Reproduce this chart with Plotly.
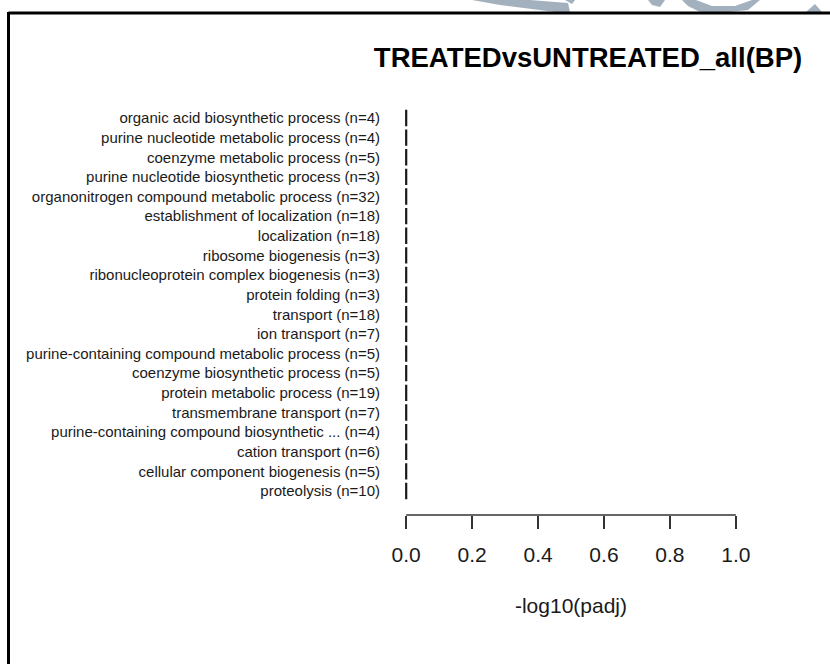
import plotly.graph_objects as go

# GO terms (top to bottom) with gene counts and enrichment scores
terms = [
    "organic acid biosynthetic process",
    "purine nucleotide metabolic process",
    "coenzyme metabolic process",
    "purine nucleotide biosynthetic process",
    "organonitrogen compound metabolic process",
    "establishment of localization",
    "localization",
    "ribosome biogenesis",
    "ribonucleoprotein complex biogenesis",
    "protein folding",
    "transport",
    "ion transport",
    "purine-containing compound metabolic process",
    "coenzyme biosynthetic process",
    "protein metabolic process",
    "transmembrane transport",
    "purine-containing compound biosynthetic ...",
    "cation transport",
    "cellular component biogenesis",
    "proteolysis",
]
counts = [4, 4, 5, 3, 32, 18, 18, 3, 3, 3, 18, 7, 5, 5, 19, 7, 4, 6, 5, 10]
neg_log10_padj = [0.0, 0.0, 0.0, 0.0, 0.0, 0.0, 0.0, 0.0, 0.0, 0.0,
                  0.0, 0.0, 0.0, 0.0, 0.0, 0.0, 0.0, 0.0, 0.0, 0.0]
x_ticks = [0.0, 0.2, 0.4, 0.6, 0.8, 1.0]

labels = [f"{t} (n={n})" for t, n in zip(terms, counts)]
pos = list(range(len(labels)))

# horizontal bars drawn as closed outlines (base at 0, half-height 0.4167)
half = 0.4167
bx, by = [], []
for p, v in zip(pos, neg_log10_padj):
    bx += [0, v, v, 0, 0, None]
    by += [p - half, p - half, p + half, p + half, p - half, None]

FONT = "Liberation Sans, Arial, sans-serif"
INK = "#1a1a1a"

fig = go.Figure()
fig.add_trace(go.Scatter(
    x=bx, y=by, mode="lines", fill="toself",
    fillcolor="#bebebe", line=dict(color=INK, width=2.2),
    hoverinfo="skip", showlegend=False,
))

# plot-area geometry in pixels
W, H = 830, 664
L, R, T, B = 393, 749, 100, 515
def px(xp):
    return (xp - L) / (R - L)
def py(yp):
    return (B - yp) / (B - T)

shapes = [
    # x axis line spanning only the tick range
    dict(type="line", xref="x", yref="paper", x0=x_ticks[0], x1=x_ticks[-1],
         y0=0, y1=0, line=dict(color="#333333", width=1.6)),
    # outer frame (top and left edges)
    dict(type="line", xref="paper", yref="paper", x0=px(8.5), x1=px(832),
         y0=py(13), y1=py(13), line=dict(color="black", width=3)),
    dict(type="line", xref="paper", yref="paper", x0=px(8.5), x1=px(8.5),
         y0=py(12), y1=py(670), line=dict(color="black", width=3)),
]

# faint logo fragments above the frame
logo = "#93a3b3"
def poly(pts):
    d = "M " + " L ".join(f"{px(a)},{py(b)}" for a, b in pts) + " Z"
    return dict(type="path", xref="paper", yref="paper", path=d,
                fillcolor=logo, line=dict(width=0), opacity=0.85, layer="below")
shapes += [
    poly([(472, 0), (530, 0), (568, 3), (570, 12), (555, 12), (500, 5)]),
    poly([(565, 0), (575, 0), (572, 4)]),
    poly([(648, 0), (665, 0), (660, 7), (652, 5)]),
    poly([(682, 0), (696, 0), (712, 6), (735, 6), (752, 0), (760, 0),
          (748, 10), (730, 12), (700, 12), (688, 6)]),
    poly([(806, 12), (815, 4), (822, 12)]),
]

fig.update_layout(
    width=W, height=H,
    margin=dict(l=L, r=W - R, t=T, b=H - B, pad=0),
    paper_bgcolor="white", plot_bgcolor="white",
    font=dict(family=FONT, color=INK),
    title=dict(text="<b>TREATEDvsUNTREATED_all(BP)</b>",
               x=px(588), xref="paper", xanchor="center",
               y=1 - 57 / H, yanchor="middle",
               font=dict(size=27.5, family=FONT, color="black")),
    xaxis=dict(range=[-0.04, 1.04], tickvals=x_ticks,
               ticktext=[f"{t:.1f}" for t in x_ticks],
               showgrid=False, zeroline=False, showline=False,
               ticks="outside", ticklen=13, tickwidth=1.6, tickcolor="#333333",
               tickfont=dict(size=21, color=INK), ticklabelstandoff=8,
               title=dict(text="-log10(padj)", font=dict(size=21, color=INK),
                          standoff=33),
               fixedrange=True),
    yaxis=dict(range=[(B - 118) / 19.63, (T - 118) / 19.63],
               tickvals=pos, ticktext=labels,
               showgrid=False, zeroline=False, showline=False, ticks="",
               tickfont=dict(size=15, color=INK), ticklabelstandoff=12,
               fixedrange=True),
    shapes=shapes,
)

fig.write_html("out.html")
